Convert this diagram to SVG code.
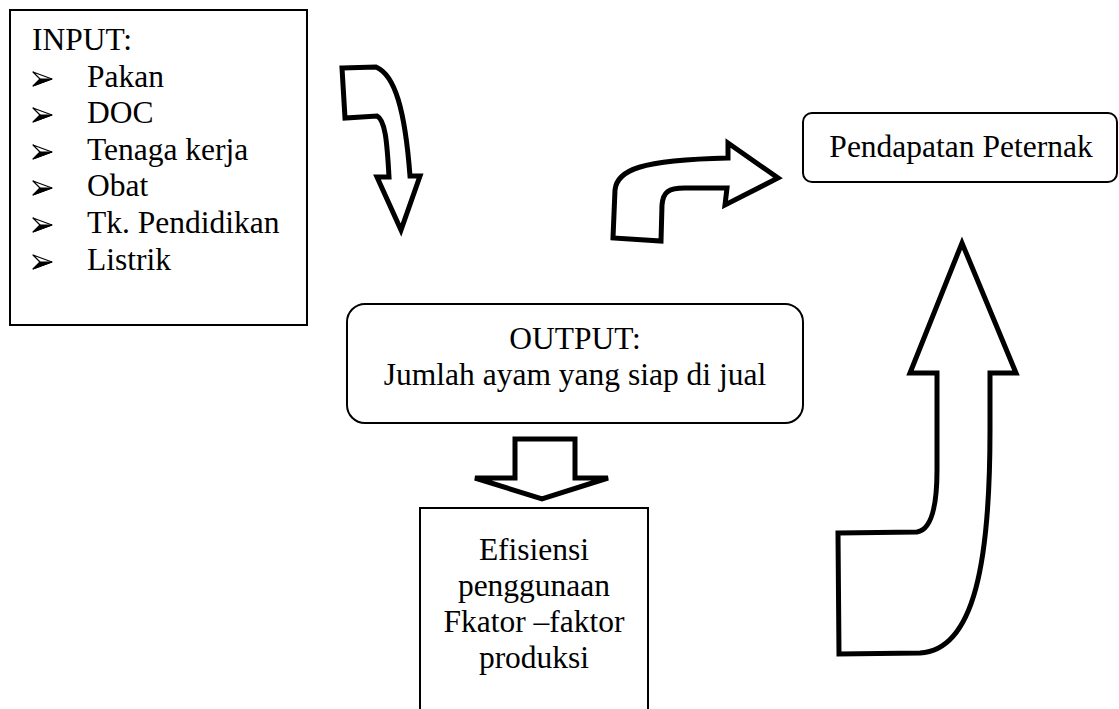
<svg xmlns="http://www.w3.org/2000/svg" width="1119" height="709" viewBox="0 0 1119 709">
<style>
.t{font-family:"Liberation Serif","Times New Roman",serif;font-size:31.5px;fill:#000}
.c{text-anchor:middle}
.box{fill:#fff;stroke:#000;stroke-width:2}
.arr{fill:#fff;stroke:#000;stroke-width:5;stroke-linejoin:miter}
</style>
<defs>
<g id="bullet">
<path d="M0,-15 L19,-8 L0,-1 L7,-8 Z" fill="#fff" stroke="#000" stroke-width="1.2" stroke-linejoin="round"/>
<path d="M7,-8 L19,-8 L0,-1 Z" fill="#000" stroke="#000" stroke-width="1"/>
</g>
</defs>
<rect width="1119" height="709" fill="#fff"/>
<g id="input">
<rect class="box" x="10" y="10" width="297" height="315"/>
<text class="t" x="32" y="50">INPUT:</text>
<use href="#bullet" x="33" y="87"/><text class="t" x="87" y="87">Pakan</text>
<use href="#bullet" x="33" y="123"/><text class="t" x="87" y="123">DOC</text>
<use href="#bullet" x="33" y="160"/><text class="t" x="87" y="160">Tenaga kerja</text>
<use href="#bullet" x="33" y="196"/><text class="t" x="87" y="196">Obat</text>
<use href="#bullet" x="33" y="233"/><text class="t" x="87" y="233">Tk. Pendidikan</text>
<use href="#bullet" x="33" y="270"/><text class="t" x="87" y="270">Listrik</text>
</g>
<g id="pendapatan">
<rect class="box" x="803" y="113" width="314" height="69" rx="9"/>
<text class="t c" x="961" y="157">Pendapatan Peternak</text>
</g>
<g id="output">
<rect class="box" x="347" y="304" width="456" height="119" rx="18"/>
<text class="t c" x="575" y="349">OUTPUT:</text>
<text class="t c" x="575" y="385">Jumlah ayam yang siap di jual</text>
</g>
<g id="efisiensi">
<rect class="box" x="420" y="508" width="228" height="215"/>
<text class="t c" x="534" y="560">Efisiensi</text>
<text class="t c" x="534" y="596">penggunaan</text>
<text class="t c" x="534" y="632">Fkator –faktor</text>
<text class="t c" x="534" y="668">produksi</text>
</g>
<g id="connectors">
<path class="arr" d="M342,68 L376,67 C395,75 405,110 410,176 L420,176 L401,230 L377,177 L389,177 C387,140 385,120 377,116 L345,118 Z"/>
<path class="arr" d="M613,238 L615,190 C617,170 640,160 728,158 L728,143 L778,178 L725,205 L727,188 L685,188 C668,188 663,192 662,205 L661,241 Z"/>
<path class="arr" d="M515,439 L575,439 L575,478 L608,478 L542,499 L475,478 L515,478 Z"/>
<path class="arr" d="M838,533 L917,532 C930,530 937,510 937,470 L937,373 L910,373 L962,243 L1016,373 L990,373 L990,430 C990,560 975,650 920,653 L839,654 Z"/>
</g>
</svg>
